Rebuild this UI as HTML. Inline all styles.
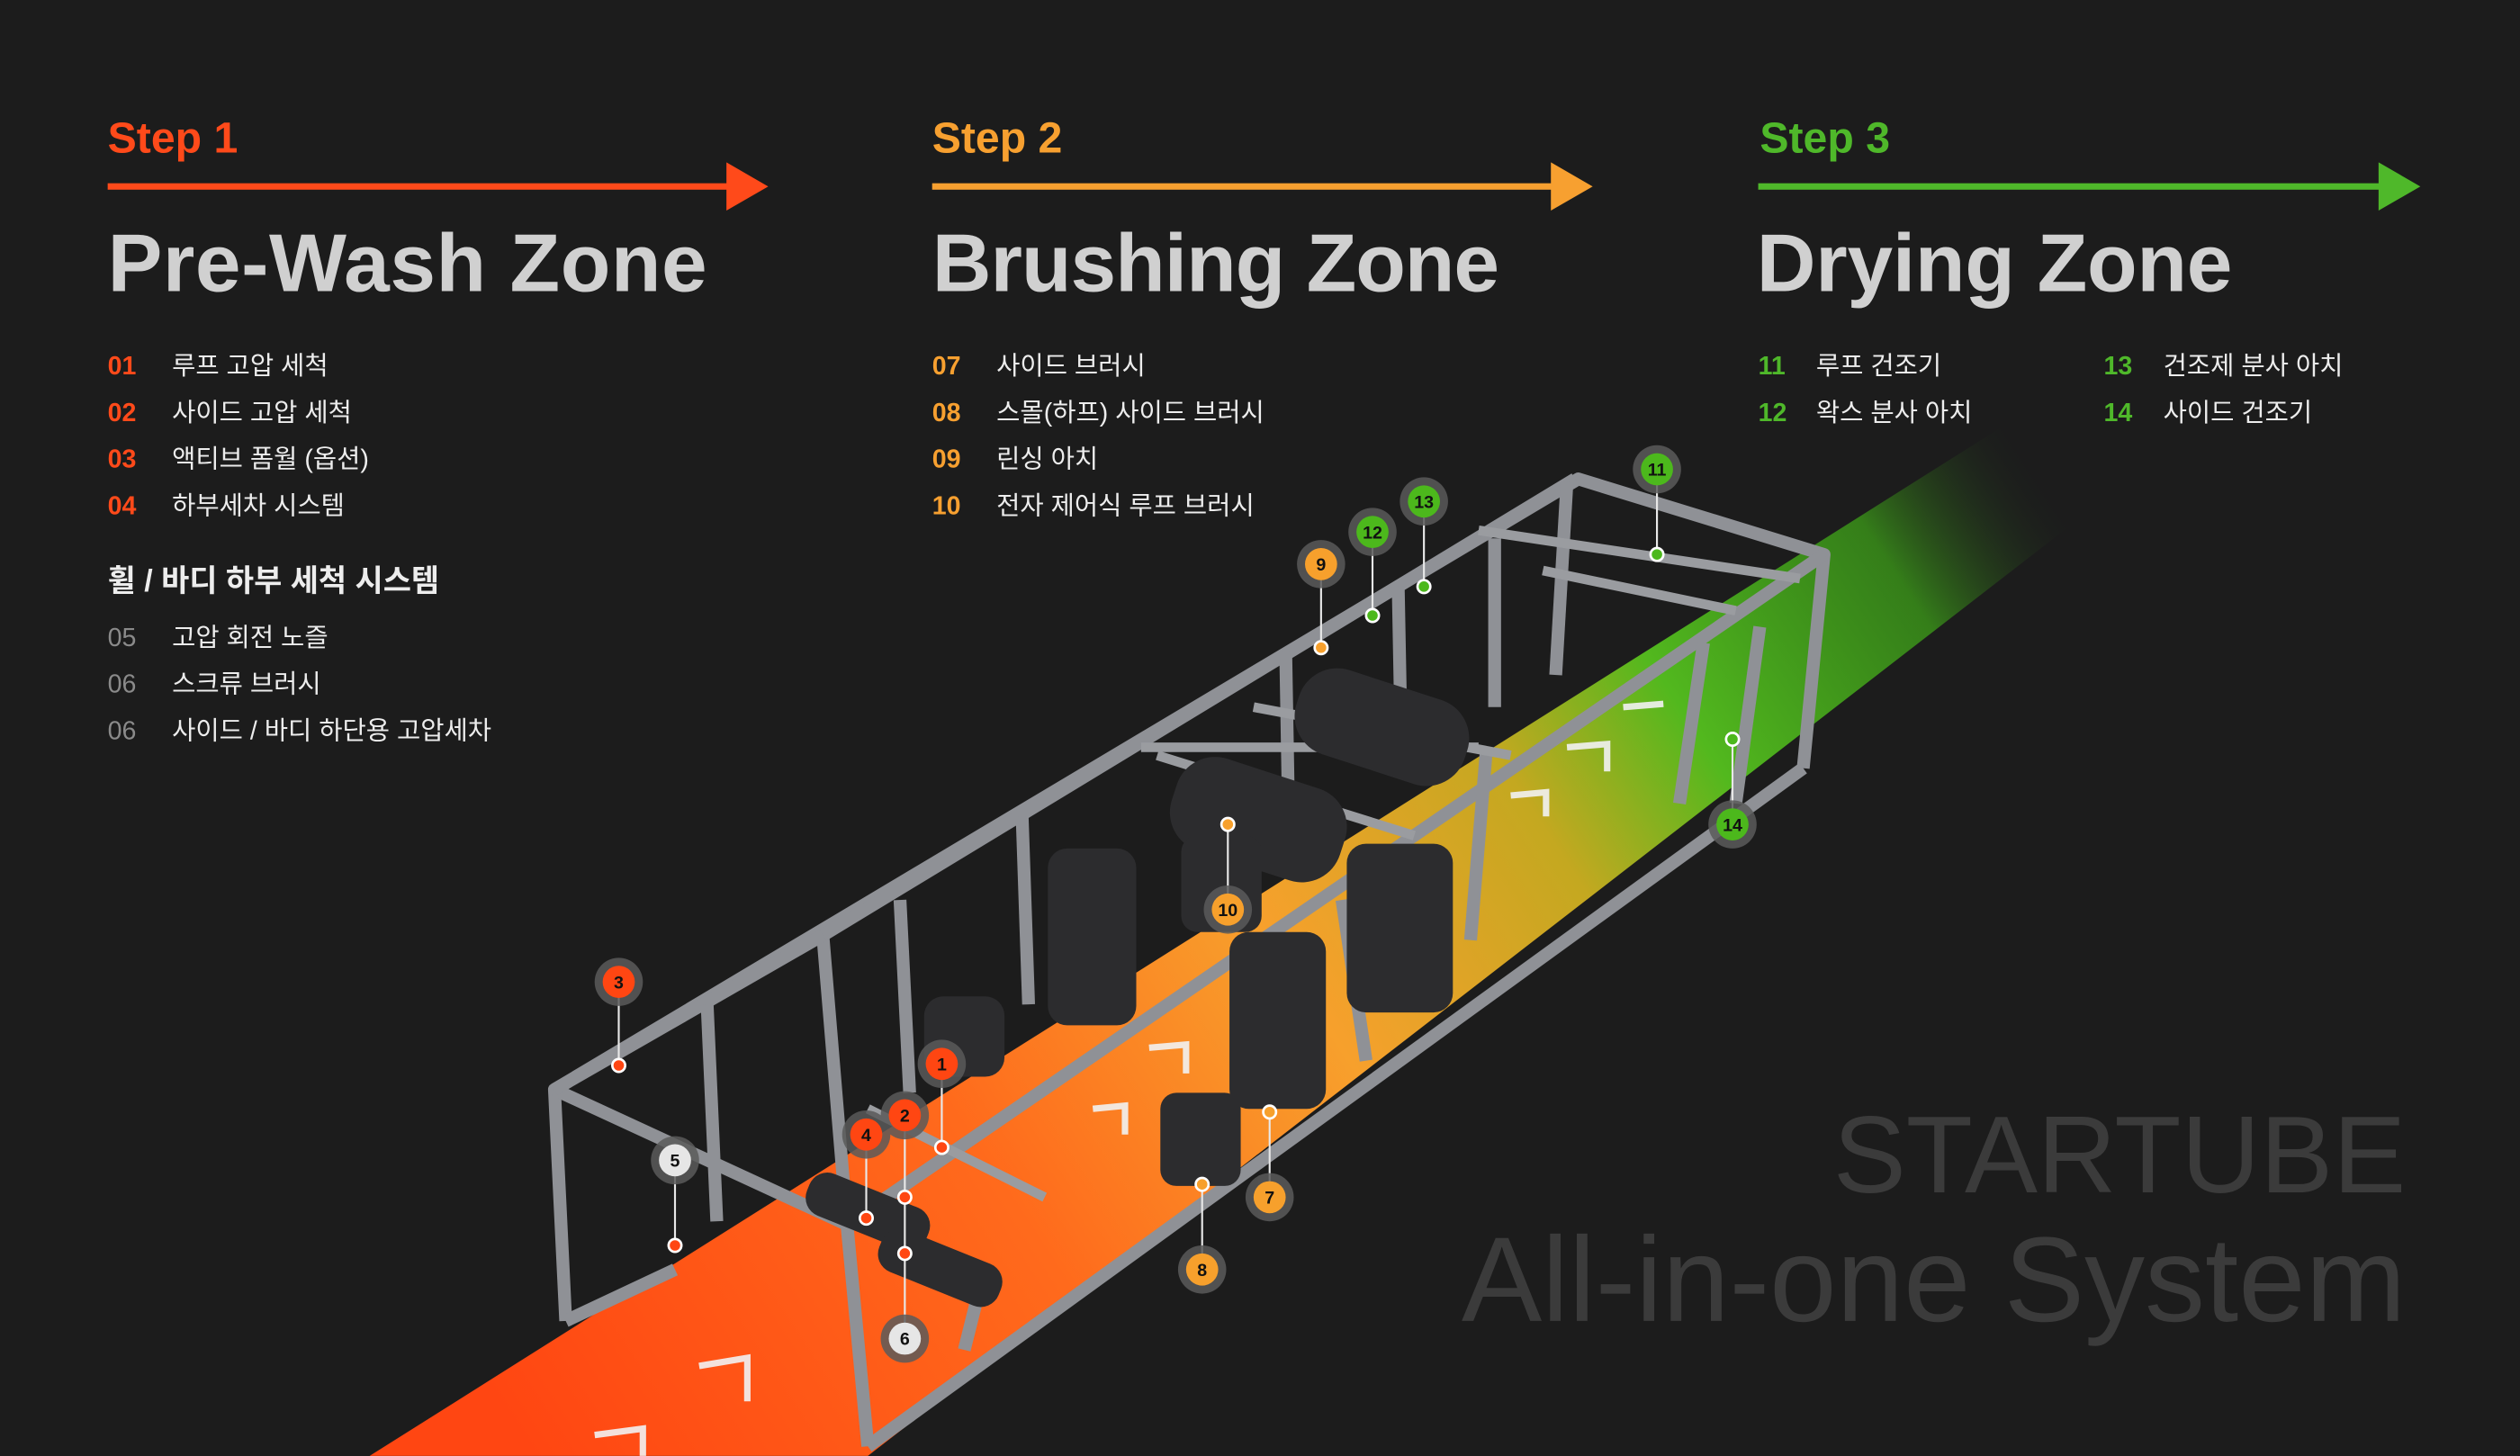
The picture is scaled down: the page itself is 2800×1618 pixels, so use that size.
<!DOCTYPE html>
<html><head><meta charset="utf-8"><style>
html,body{margin:0;padding:0;background:#1c1c1c;}
svg{display:block;}
text{font-family:"Liberation Sans","Noto Sans CJK KR",sans-serif;}
</style></head><body>
<svg width="2800" height="1618" viewBox="0 0 1568 906" xmlns="http://www.w3.org/2000/svg">
<defs>
<linearGradient id="fl" gradientUnits="userSpaceOnUse" x1="330" y1="906" x2="1270" y2="290">
<stop offset="0" stop-color="#ff4612"/>
<stop offset="0.3" stop-color="#ff6a1c"/>
<stop offset="0.5" stop-color="#f7a02c"/>
<stop offset="0.66" stop-color="#c4a820"/>
<stop offset="0.76" stop-color="#52b81e"/>
<stop offset="0.9" stop-color="#3fa818" stop-opacity="0.7"/>
<stop offset="1" stop-color="#1c1c1c" stop-opacity="0"/>
</linearGradient>
</defs>
<rect width="1568" height="906" fill="#1c1c1c"/>
<polygon points="230,906 1310,225 1420,225 540,906" fill="url(#fl)"/>
<g stroke="#f2f2f2" stroke-width="4" fill="none" opacity="0.9">
<polyline points="435,850 465,845 465,872"/>
<polyline points="370,893 400,889 400,906"/>
<polyline points="680,690 700,688 700,706"/>
<polyline points="715,652 738,650 738,668"/>
<polyline points="940,495 962,493 962,508"/>
<polyline points="975,465 1000,463 1000,480"/>
<polyline points="1010,440 1035,438"/>
</g>
<g stroke="#8f9196" stroke-width="8" fill="none" stroke-linejoin="round">
<polyline points="352,822 345,678 982,298 1135,345 1122,478"/>
<polyline points="345,678 527,762 1135,345"/>
<line x1="527" y1="762" x2="540" y2="900"/>
<line x1="540" y1="900" x2="1122" y2="478"/>
<line x1="352" y1="822" x2="420" y2="790"/>
<polyline points="512,582 527,762"/>
<polyline points="512,582 345,678"/>
<line x1="512" y1="582" x2="980" y2="298"/>
<polyline points="975,300 968,420"/>
<line x1="636" y1="508" x2="640" y2="625"/>
<line x1="560" y1="560" x2="566" y2="680"/>
<line x1="440" y1="625" x2="446" y2="760"/>
<line x1="930" y1="335" x2="930" y2="440"/>
<line x1="870" y1="365" x2="872" y2="470"/>
<line x1="800" y1="405" x2="802" y2="520"/>
<line x1="610" y1="800" x2="600" y2="840"/>
<line x1="835" y1="560" x2="850" y2="660"/>
<line x1="925" y1="465" x2="915" y2="585"/>
<line x1="1060" y1="400" x2="1045" y2="500"/>
<line x1="1095" y1="390" x2="1080" y2="500"/>
</g>
<g stroke="#9a9ca0" stroke-width="6" fill="none">
<line x1="710" y1="465" x2="920" y2="465"/>
<line x1="920" y1="330" x2="1120" y2="360"/>
<line x1="960" y1="355" x2="1080" y2="380"/>
<line x1="720" y1="470" x2="880" y2="520"/>
<line x1="780" y1="440" x2="940" y2="470"/>
<line x1="540" y1="690" x2="650" y2="745"/>
</g>
<g fill="#2c2c2e">
<rect x="652" y="528" width="55" height="110" rx="12"/>
<rect x="765" y="580" width="60" height="110" rx="12"/>
<rect x="838" y="525" width="66" height="105" rx="12"/>
<rect x="728" y="480" width="110" height="60" rx="25" transform="rotate(18 783 510)"/>
<rect x="805" y="425" width="110" height="55" rx="25" transform="rotate(18 860 452)"/>
<rect x="735" y="520" width="50" height="60" rx="10"/>
<rect x="722" y="680" width="50" height="58" rx="10"/>
<rect x="575" y="620" width="50" height="50" rx="12"/>
<rect x="500" y="740" width="80" height="28" rx="12" transform="rotate(22 540 754)"/>
<rect x="545" y="775" width="80" height="28" rx="12" transform="rotate(22 585 789)"/>
</g>
<g stroke="#e8e8e8" stroke-width="1.2">
<line x1="586" y1="662" x2="586" y2="714"/>
<line x1="563" y1="694" x2="563" y2="780"/>
<line x1="385" y1="611" x2="385" y2="663"/>
<line x1="539" y1="706" x2="539" y2="758"/>
<line x1="420" y1="722" x2="420" y2="775"/>
<line x1="563" y1="833" x2="563" y2="780"/>
<line x1="790" y1="745" x2="790" y2="692"/>
<line x1="748" y1="790" x2="748" y2="737"/>
<line x1="822" y1="351" x2="822" y2="403"/>
<line x1="764" y1="566" x2="764" y2="513"/>
<line x1="1031" y1="292" x2="1031" y2="345"/>
<line x1="854" y1="331" x2="854" y2="383"/>
<line x1="886" y1="312" x2="886" y2="365"/>
<line x1="1078" y1="513" x2="1078" y2="460"/>
</g>
<g stroke="#fff" stroke-width="1.5">
<circle cx="586" cy="714" r="4" fill="#ff4612"/>
<circle cx="563" cy="745" r="4" fill="#ff4612"/>
<circle cx="563" cy="780" r="4" fill="#ff4612"/>
<circle cx="385" cy="663" r="4" fill="#ff4612"/>
<circle cx="539" cy="758" r="4" fill="#ff4612"/>
<circle cx="420" cy="775" r="4" fill="#ff4612"/>
<circle cx="790" cy="692" r="4" fill="#f7a02c"/>
<circle cx="748" cy="737" r="4" fill="#f7a02c"/>
<circle cx="822" cy="403" r="4" fill="#f7a02c"/>
<circle cx="764" cy="513" r="4" fill="#f7a02c"/>
<circle cx="1031" cy="345" r="4" fill="#4cb81c"/>
<circle cx="854" cy="383" r="4" fill="#4cb81c"/>
<circle cx="886" cy="365" r="4" fill="#4cb81c"/>
<circle cx="1078" cy="460" r="4" fill="#4cb81c"/>
</g>
<g font-size="11" font-weight="bold" text-anchor="middle">
<g fill="#5a5a5a" opacity="0.85">
<circle cx="586" cy="662" r="15"/><circle cx="563" cy="694" r="15"/><circle cx="385" cy="611" r="15"/>
<circle cx="539" cy="706" r="15"/><circle cx="420" cy="722" r="15"/><circle cx="563" cy="833" r="15"/>
<circle cx="790" cy="745" r="15"/><circle cx="748" cy="790" r="15"/><circle cx="822" cy="351" r="15"/>
<circle cx="764" cy="566" r="15"/><circle cx="1031" cy="292" r="15"/><circle cx="854" cy="331" r="15"/>
<circle cx="886" cy="312" r="15"/><circle cx="1078" cy="513" r="15"/>
</g>
<circle cx="586" cy="662" r="10" fill="#ff4612"/><text x="586" y="666" fill="#111">1</text>
<circle cx="563" cy="694" r="10" fill="#ff4612"/><text x="563" y="698" fill="#111">2</text>
<circle cx="385" cy="611" r="10" fill="#ff4612"/><text x="385" y="615" fill="#111">3</text>
<circle cx="539" cy="706" r="10" fill="#ff4612"/><text x="539" y="710" fill="#111">4</text>
<circle cx="420" cy="722" r="10" fill="#e6e6e6"/><text x="420" y="726" fill="#111">5</text>
<circle cx="563" cy="833" r="10" fill="#e6e6e6"/><text x="563" y="837" fill="#111">6</text>
<circle cx="790" cy="745" r="10" fill="#f7a02c"/><text x="790" y="749" fill="#111">7</text>
<circle cx="748" cy="790" r="10" fill="#f7a02c"/><text x="748" y="794" fill="#111">8</text>
<circle cx="822" cy="351" r="10" fill="#f7a02c"/><text x="822" y="355" fill="#111">9</text>
<circle cx="764" cy="566" r="10" fill="#f7a02c"/><text x="764" y="570" fill="#111">10</text>
<circle cx="1031" cy="292" r="10" fill="#4cb81c"/><text x="1031" y="296" fill="#111">11</text>
<circle cx="854" cy="331" r="10" fill="#4cb81c"/><text x="854" y="335" fill="#111">12</text>
<circle cx="886" cy="312" r="10" fill="#4cb81c"/><text x="886" y="316" fill="#111">13</text>
<circle cx="1078" cy="513" r="10" fill="#4cb81c"/><text x="1078" y="517" fill="#111">14</text>
</g>
<g fill="#3b3b3b" text-anchor="end">
<text x="1497" y="742" font-size="68">STARTUBE</text>
<text x="1497" y="822" font-size="75">All-in-one System</text>
</g>
<g font-weight="bold">
<text x="67" y="95" font-size="27" fill="#ff4a1a">Step 1</text>
<text x="580" y="95" font-size="27" fill="#f7a030">Step 2</text>
<text x="1095" y="95" font-size="27" fill="#4fb82a">Step 3</text>
<text x="67" y="181" font-size="51" fill="#d0d0d0" textLength="373">Pre-Wash Zone</text>
<text x="580" y="181" font-size="51" fill="#d0d0d0" textLength="353">Brushing Zone</text>
<text x="1093" y="181" font-size="51" fill="#d0d0d0" textLength="296">Drying Zone</text>
</g>
<rect x="67" y="114" width="388" height="4" fill="#ff4a1a"/><polygon points="452,101 478,116 452,131" fill="#ff4a1a"/>
<rect x="580" y="114" width="388" height="4" fill="#f7a030"/><polygon points="965,101 991,116 965,131" fill="#f7a030"/>
<rect x="1094" y="114" width="388" height="4" fill="#4fb82a"/><polygon points="1480,101 1506,116 1480,131" fill="#4fb82a"/>
<g font-size="16" fill="#ededed">
<g font-weight="bold" fill="#ff4a1a"><text x="67" y="233">01</text><text x="67" y="262">02</text><text x="67" y="291">03</text><text x="67" y="320">04</text></g>
<text x="107" y="233">루프 고압 세척</text><text x="107" y="262">사이드 고압 세척</text><text x="107" y="291">액티브 폼월 (옵션)</text><text x="107" y="320">하부세차 시스템</text>
<text x="67" y="368" font-size="19" font-weight="bold">휠 / 바디 하부 세척 시스템</text>
<g fill="#8a8a8a"><text x="67" y="402">05</text><text x="67" y="431">06</text><text x="67" y="460">06</text></g>
<text x="107" y="402">고압 회전 노즐</text><text x="107" y="431">스크류 브러시</text><text x="107" y="460">사이드 / 바디 하단용 고압세차</text>
<g font-weight="bold" fill="#f7a030"><text x="580" y="233">07</text><text x="580" y="262">08</text><text x="580" y="291">09</text><text x="580" y="320">10</text></g>
<text x="620" y="233">사이드 브러시</text><text x="620" y="262">스몰(하프) 사이드 브러시</text><text x="620" y="291">린싱 아치</text><text x="620" y="320">전자 제어식 루프 브러시</text>
<g font-weight="bold" fill="#4fb82a"><text x="1094" y="233">11</text><text x="1094" y="262">12</text><text x="1309" y="233">13</text><text x="1309" y="262">14</text></g>
<text x="1130" y="233">루프 건조기</text><text x="1130" y="262">왁스 분사 아치</text><text x="1346" y="233">건조제 분사 아치</text><text x="1346" y="262">사이드 건조기</text>
</g>
</svg>
</body></html>
